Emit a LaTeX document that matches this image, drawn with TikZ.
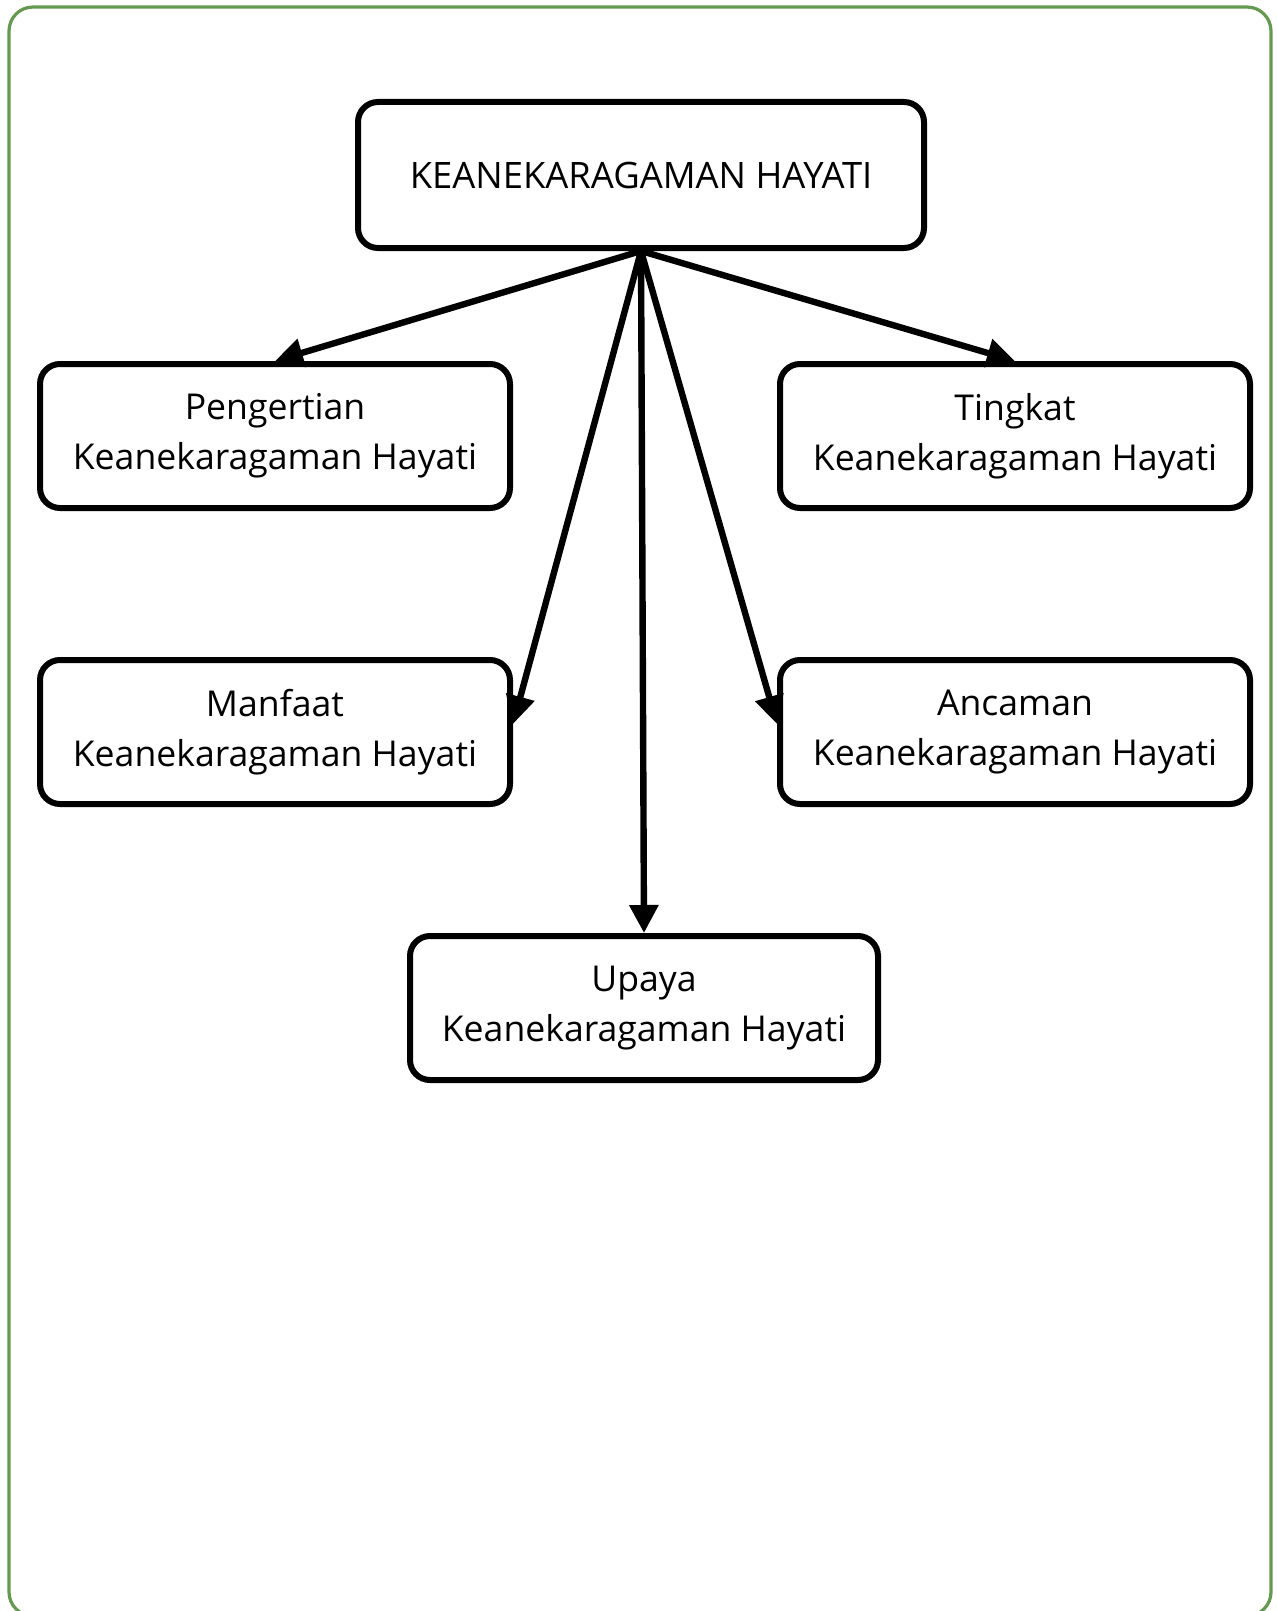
\documentclass[tikz,border=0pt]{standalone}
\usepackage{fontspec}
\setmainfont{Open Sans}
\usetikzlibrary{arrows.meta}
\definecolor{framegreen}{HTML}{64994F}

\tikzset{
  topicbox/.style={draw, line width=3pt, rounded corners=10pt, align=center,
    minimum width=235pt, minimum height=72pt, inner sep=0pt,
    font=\fontsize{17.8pt}{24.8pt}\selectfont},
  branch/.style={line width=3.2pt, -{Triangle[length=14pt,width=14pt]}}
}

\begin{document}
\begin{tikzpicture}[x=0.5pt,y=-0.5pt]
        \useasboundingbox (0,0) rectangle (1277,1611);
        % Outer frame
        \draw[framegreen, line width=1.6pt, rounded corners=12pt] (9,7) rectangle (1271,1616);

        % Boxes
        \node[topicbox, minimum width=283pt, minimum height=73pt, font=\fontsize{18.2pt}{25pt}\selectfont] (root) at (641,175) {KEANEKARAGAMAN HAYATI};
        \node[topicbox] (pengertian) at (275,436) {Pengertian\\Keanekaragaman Hayati};
        \node[topicbox] (tingkat) at (1015,436) {Tingkat\\Keanekaragaman Hayati};
        \node[topicbox] (manfaat) at (275,732) {Manfaat\\Keanekaragaman Hayati};
        \node[topicbox] (ancaman) at (1015,732) {Ancaman\\Keanekaragaman Hayati};
        \node[topicbox, minimum width=234pt] (upaya) at (644,1008) {Upaya\\Keanekaragaman Hayati};

        % Arrows
        \draw[branch] (root.south) -- (pengertian.north);
        \draw[branch] (root.south) -- (tingkat.north);
        \draw[branch] (root.south) -- ([yshift=4pt]manfaat.east);
        \draw[branch] (root.south) -- ([yshift=4pt]ancaman.west);
        \draw[branch] (root.south) -- (upaya.north);
\end{tikzpicture}
\end{document}
